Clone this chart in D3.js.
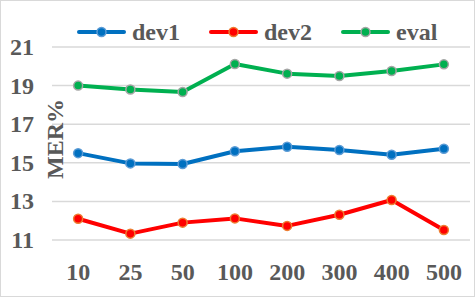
<!DOCTYPE html>
<html lang="en">
<head>
  <meta charset="UTF-8" />
  <title>MER% chart</title>
  <style>
    body { margin: 0; padding: 0; background: #fff; }
    svg { display: block; }
    text { font-family: "Liberation Serif", "Times New Roman", serif; font-weight: bold; fill: #595959; }
  </style>
  <script src="https://d3js.org/d3.v7.min.js"></script>
</head>
<body>
<svg id="chart" width="475" height="297"></svg>
<script>
const categories = ["10", "25", "50", "100", "200", "300", "400", "500"];
const dev1 = [15.5, 14.97, 14.94, 15.6, 15.83, 15.66, 15.42, 15.73];
const dev2 = [12.1, 11.33, 11.9, 12.12, 11.73, 12.31, 13.07, 11.52];
const evalSet = [19.0, 18.8, 18.67, 20.12, 19.62, 19.5, 19.76, 20.1];
const yTicks = [11, 13, 15, 17, 19, 21];

const series = [
  { name: "dev1", values: dev1, line: "#0070c0", fill: "#0070c0", stroke: "#5b9bd5" },
  { name: "dev2", values: dev2, line: "#ff0000", fill: "#ff0000", stroke: "#ed7d31" },
  { name: "eval", values: evalSet, line: "#00b050", fill: "#00b050", stroke: "#a5a5a5" }
];

const svg = d3.select("#chart");
const W = 475, H = 297;
const margin = { left: 52, right: 5, top: 47, bottom: 57 };

// outer border
svg.append("rect")
  .attr("x", 0.5).attr("y", 0.5)
  .attr("width", W - 1).attr("height", H - 1)
  .attr("fill", "#fff").attr("stroke", "#d9d9d9");

const x = d3.scalePoint()
  .domain(categories)
  .range([margin.left, W - margin.right])
  .padding(0.5);

const y = d3.scaleLinear()
  .domain([11, 21])
  .range([H - margin.bottom, margin.top]);

// gridlines
svg.append("g")
  .selectAll("line")
  .data(yTicks)
  .join("line")
  .attr("x1", margin.left).attr("x2", W - margin.right)
  .attr("y1", d => y(d)).attr("y2", d => y(d))
  .attr("stroke", "#d9d9d9").attr("stroke-width", 1.5);

// y tick labels
svg.append("g")
  .selectAll("text")
  .data(yTicks)
  .join("text")
  .attr("x", 34)
  .attr("y", d => y(d) + 8)
  .attr("text-anchor", "end")
  .attr("font-size", 24)
  .text(d => d);

// x tick labels
svg.append("g")
  .selectAll("text")
  .data(categories)
  .join("text")
  .attr("x", d => x(d))
  .attr("y", 280)
  .attr("text-anchor", "middle")
  .attr("font-size", 24)
  .text(d => d);

// y axis title
svg.append("text")
  .attr("transform", "translate(63,139) rotate(-90)")
  .attr("text-anchor", "middle")
  .attr("font-size", 24)
  .text("MER%");

const line = d3.line()
  .x((d, i) => x(categories[i]))
  .y(d => y(d));

series.forEach(s => {
  svg.append("path")
    .datum(s.values)
    .attr("fill", "none")
    .attr("stroke", s.line)
    .attr("stroke-width", 4)
    .attr("stroke-linejoin", "round")
    .attr("d", line);

  svg.append("g")
    .selectAll("circle")
    .data(s.values)
    .join("circle")
    .attr("cx", (d, i) => x(categories[i]))
    .attr("cy", d => y(d))
    .attr("r", 4.5)
    .attr("fill", s.fill)
    .attr("stroke", s.stroke)
    .attr("stroke-width", 1.5);
});

// legend
const legendX = [79, 211, 343];
const legend = svg.append("g");
series.forEach((s, i) => {
  const lx = legendX[i], ly = 32;
  legend.append("line")
    .attr("x1", lx).attr("x2", lx + 45)
    .attr("y1", ly).attr("y2", ly)
    .attr("stroke", s.line).attr("stroke-width", 4)
    .attr("stroke-linecap", "round");
  legend.append("circle")
    .attr("cx", lx + 22.5).attr("cy", ly)
    .attr("r", 4.5)
    .attr("fill", s.fill)
    .attr("stroke", s.stroke)
    .attr("stroke-width", 1.5);
  legend.append("text")
    .attr("x", lx + 53)
    .attr("y", ly + 8)
    .attr("font-size", 24)
    .text(s.name);
});
</script>
</body>
</html>
